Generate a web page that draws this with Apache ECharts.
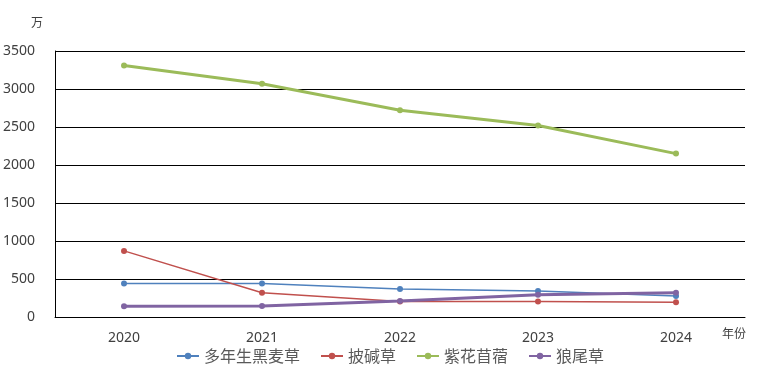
<!DOCTYPE html>
<html><head><meta charset="utf-8">
<script src="https://cdn.jsdelivr.net/npm/echarts@6/dist/echarts.min.js"></script>
<style>html,body{margin:0;padding:0;background:#fff}#c{width:780px;height:380px}</style>
</head><body><div id="c"></div>
<script>
const categories = ['2020','2021','2022','2023','2024'];
const seriesNames = ['多年生黑麦草','披碱草','紫花苜蓿','狼尾草'];
const ryegrass = [440, 440, 368, 342, 276];
const elymus = [870, 320, 205, 205, 195];
const alfalfa = [3310, 3070, 2720, 2520, 2150];
const pennisetum = [140, 145, 210, 292, 318];
const yTicks = {min: 0, max: 3500, interval: 500};

const colors = ['#4F81BD','#C0504D','#9BBB59','#8064A2'];
const widths = [1.5, 1.5, 3, 3];
const dataSets = [ryegrass, elymus, alfalfa, pennisetum];

const chart = echarts.init(document.getElementById('c'));
chart.setOption({
  animation: false,
  color: colors,
  grid: {left: 54, right: 35, top: 51, bottom: 63, containLabel: false},
  legend: {
    bottom: 11, left: 'center', itemWidth: 22, itemHeight: 8, itemGap: 20,
    textStyle: {fontSize: 16, color: '#595959', fontFamily: 'Noto Sans CJK SC'},
    data: seriesNames
  },
  xAxis: {
    type: 'category', data: categories, boundaryGap: true,
    axisLine: {lineStyle: {color: '#000', width: 1}},
    axisTick: {show: false},
    axisLabel: {fontSize: 14, color: '#404040', margin: 14, fontFamily: 'Noto Sans'}
  },
  yAxis: {
    type: 'value', min: yTicks.min, max: yTicks.max, interval: yTicks.interval,
    axisLine: {show: true, lineStyle: {color: '#000', width: 1}},
    axisTick: {show: false},
    splitLine: {lineStyle: {color: '#000', width: 1}},
    axisLabel: {fontSize: 14, color: '#404040', margin: 20, fontFamily: 'Noto Sans',
      formatter: v => String(v)}
  },
  graphic: [
    {type: 'text', left: 31, top: 16, style: {text: '万', fontSize: 12, fill: '#404040', fontFamily: 'Noto Sans CJK SC'}},
    {type: 'text', left: 722, top: 327, style: {text: '年份', fontSize: 12, fill: '#404040', fontFamily: 'Noto Sans CJK SC'}}
  ],
  series: seriesNames.map((n, i) => ({
    name: n, type: 'line', data: dataSets[i],
    symbol: 'circle', symbolSize: 6,
    lineStyle: {width: widths[i], color: colors[i]},
    itemStyle: {color: colors[i]}
  }))
});
</script></body></html>
